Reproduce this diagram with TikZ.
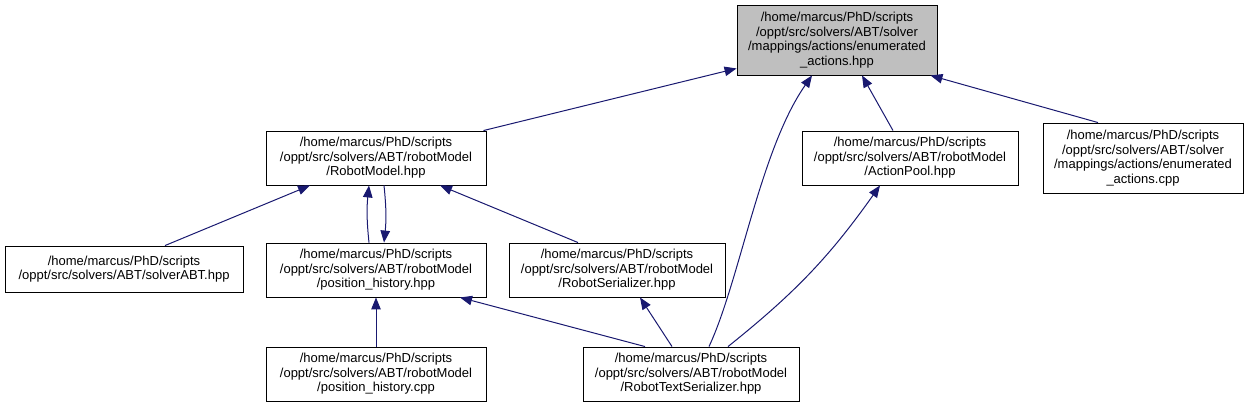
\documentclass[tikz,border=0pt]{standalone}
\usepackage{fontspec}
\setmainfont{Liberation Sans}
\usetikzlibrary{arrows.meta}
\definecolor{edgeblue}{HTML}{191970}
\begin{document}
\begin{tikzpicture}[
        x=1pt, y=-1pt,
        file/.style={
          draw,
          line width=0.9pt,
          align=center,
          inner sep=0pt,
          minimum width=220pt,
          minimum height=54pt,
          font=\fontsize{13}{14.5}\selectfont
        },
        tall/.style={file, minimum width=200pt, minimum height=70pt},
        dep/.style={
          edgeblue,
          line width=1pt,
          {Triangle[length=12pt,width=9.5pt]}-
        }
      ]
      \useasboundingbox (0,0) rectangle (1249,408);
      \node[tall, fill=black!25] (enumhpp) at (837,40)
        {/home/marcus/PhD/scripts\\/oppt/src/solvers/ABT/solver\\/mappings/actions/enumerated\\\_actions.hpp};
      \node[file] (robotmodel) at (376,158)
        {/home/marcus/PhD/scripts\\/oppt/src/solvers/ABT/robotModel\\/RobotModel.hpp};
      \node[file, minimum width=216pt] (actionpool) at (910,158)
        {/home/marcus/PhD/scripts\\/oppt/src/solvers/ABT/robotModel\\/ActionPool.hpp};
      \node[tall] (enumcpp) at (1143,158)
        {/home/marcus/PhD/scripts\\/oppt/src/solvers/ABT/solver\\/mappings/actions/enumerated\\\_actions.cpp};
      \node[file, minimum width=238pt, minimum height=46pt] (solverabt) at (124,269)
        {/home/marcus/PhD/scripts\\/oppt/src/solvers/ABT/solverABT.hpp};
      \node[file] (poshpp) at (376,270)
        {/home/marcus/PhD/scripts\\/oppt/src/solvers/ABT/robotModel\\/position\_history.hpp};
      \node[file, minimum width=216pt] (serializer) at (617,270)
        {/home/marcus/PhD/scripts\\/oppt/src/solvers/ABT/robotModel\\/RobotSerializer.hpp};
      \node[file] (poscpp) at (376,374)
        {/home/marcus/PhD/scripts\\/oppt/src/solvers/ABT/robotModel\\/position\_history.cpp};
      \node[file, minimum width=216pt] (textser) at (691,374)
        {/home/marcus/PhD/scripts\\/oppt/src/solvers/ABT/robotModel\\/RobotTextSerializer.hpp};

      \draw[dep] ([yshift=7pt]enumhpp.south west) -- ([xshift=-3pt]robotmodel.north east);
      \draw[dep] ([xshift=-25pt]enumhpp.south) .. controls (760,150) and (740,280) .. ([xshift=18pt]textser.north);
      \draw[dep] ([xshift=25pt]enumhpp.south) -- ([xshift=-17pt]actionpool.north);
      \draw[dep] ([xshift=-7pt]enumhpp.south east) -- ([xshift=-45pt]enumcpp.north);
      \draw[dep] ([xshift=-66pt]robotmodel.south) -- ([xshift=41pt]solverabt.north);
      \draw[dep] ([xshift=-7pt]robotmodel.south) to[bend right=6] ([xshift=-7pt]poshpp.north);
      \draw[dep] ([xshift=8pt]poshpp.north) to[bend right=6] ([xshift=8pt]robotmodel.south);
      \draw[dep] ([xshift=64pt]robotmodel.south) -- ([xshift=-39pt]serializer.north);
      \draw[dep] (poshpp.south) -- (poscpp.north);
      \draw[dep] ([xshift=84pt]poshpp.south) -- ([xshift=-46pt]textser.north);
      \draw[dep] ([xshift=23pt]serializer.south) -- ([xshift=-19pt]textser.north);
      \draw[dep] ([xshift=-30pt]actionpool.south) to[bend left=8] ([xshift=37pt]textser.north);
    \end{tikzpicture}
\end{document}
